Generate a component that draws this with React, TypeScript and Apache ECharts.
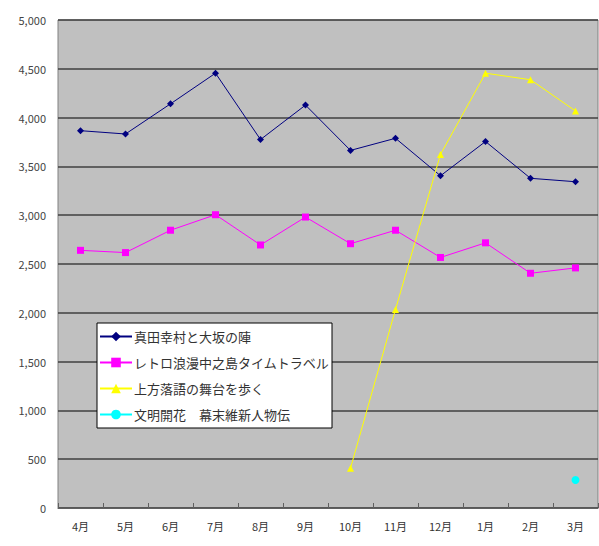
import React, { useEffect, useRef } from "react";
import * as echarts from "echarts";

const months = ["4月", "5月", "6月", "7月", "8月", "9月", "10月", "11月", "12月", "1月", "2月", "3月"];
const seriesNames = ["真田幸村と大坂の陣", "レトロ浪漫中之島タイムトラベル", "上方落語の舞台を歩く", "文明開花　幕末維新人物伝"];
const sanada = [3866, 3832, 4141, 4455, 3775, 4128, 3664, 3788, 3404, 3755, 3378, 3343];
const retro = [2640, 2617, 2846, 3005, 2695, 2981, 2708, 2846, 2567, 2717, 2405, 2460];
const kamigata = [null, null, null, null, null, null, 408, 2035, 3623, 4455, 4388, 4068];
const bunmei = [null, null, null, null, null, null, null, null, null, null, null, 287];

const colors = ["#000080", "#FF00FF", "#FFFF00", "#00FFFF"];
const symbols = ["diamond", "rect", "triangle", "circle"];

export default function App() {
  const ref = useRef<HTMLDivElement>(null);
  useEffect(() => {
    const chart = echarts.init(ref.current!, null, { renderer: "svg" });
    const data = [sanada, retro, kamigata, bunmei];
    const font = "'Noto Sans CJK JP', 'Noto Sans', sans-serif";
    chart.setOption({
      animation: false,
      backgroundColor: "#ffffff",
      textStyle: { fontFamily: font },
      grid: {
        left: 58,
        right: 1,
        top: 20,
        bottom: 38,
        show: true,
        backgroundColor: "#C0C0C0",
        borderColor: "#808080",
        borderWidth: 1,
      },
      legend: {
        orient: "vertical",
        left: 97,
        top: 323,
        backgroundColor: "#ffffff",
        borderColor: "#000000",
        borderWidth: 1,
        padding: [7, 3, 7, 2],
        itemGap: 13,
        itemWidth: 32,
        itemHeight: 12,
        textStyle: { fontSize: 13, color: "#333", fontFamily: font, padding: [0, 0, 0, -3] },
        data: seriesNames,
      },
      xAxis: {
        type: "category",
        data: months,
        boundaryGap: true,
        axisLine: { show: true, lineStyle: { color: "#606060", width: 1 } },
        axisTick: { show: true, inside: true, length: 5, lineStyle: { color: "#606060" } },
        axisLabel: { fontSize: 11, color: "#333", margin: 12, fontFamily: font },
      },
      yAxis: {
        type: "value",
        min: 0,
        max: 5000,
        interval: 500,
        axisLine: { show: false },
        axisTick: { show: false },
        axisLabel: {
          fontSize: 11,
          color: "#444",
          margin: 12,
          fontFamily: font,
          formatter: (v: number) => v.toLocaleString("en-US"),
        },
        splitLine: { show: true, lineStyle: { color: "#404040", width: 1.5 } },
      },
      series: seriesNames.map((name, i) => ({
        name,
        type: "line",
        data: data[i],
        connectNulls: false,
        symbol: symbols[i],
        symbolSize: i === 3 ? 8 : 7,
        itemStyle: { color: colors[i] },
        lineStyle: { color: colors[i], width: 1 },
      })),
    });
    return () => chart.dispose();
  }, []);
  return (
    <div
      ref={ref}
      style={{ position: "fixed", left: 0, top: 0, width: 599, height: 546 }}
    />
  );
}
